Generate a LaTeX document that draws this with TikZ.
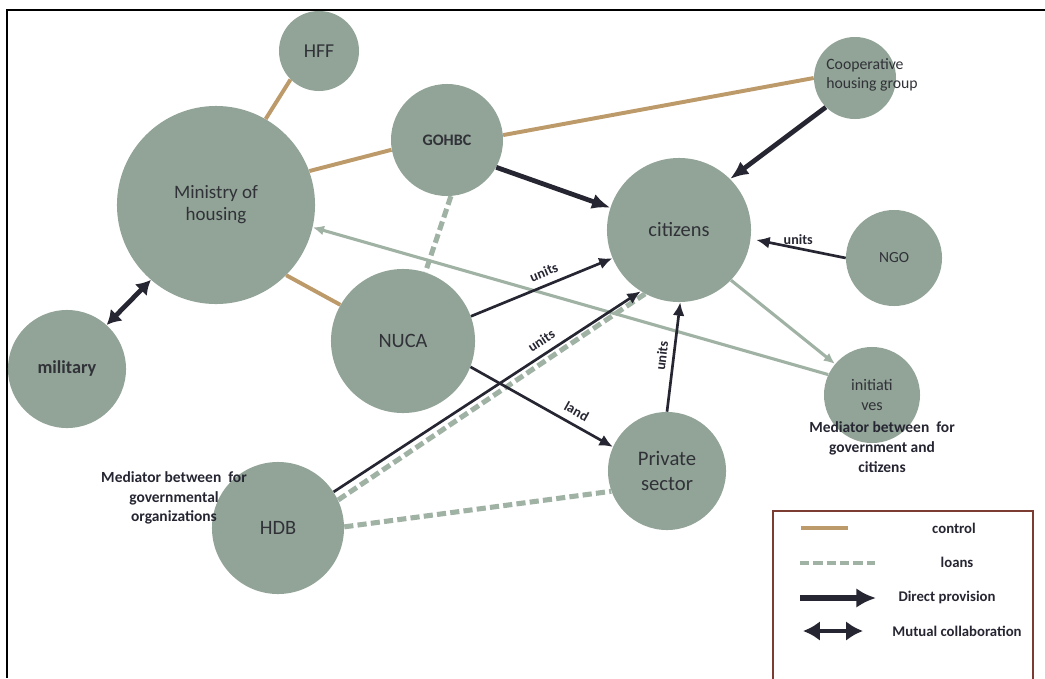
\documentclass[tikz,border=0pt]{standalone}
\usepackage{fontspec}
\setmainfont{Carlito}
\usepackage{tikz}
\usetikzlibrary{arrows.meta, calc}
\definecolor{mysage}{RGB}{146,163,151}
\definecolor{mytan}{RGB}{189,154,106}
\definecolor{myloan}{RGB}{160,178,164}
\definecolor{mydark}{RGB}{38,38,50}
\definecolor{mytext}{RGB}{48,50,56}
\definecolor{myframe}{RGB}{125,60,50}
\tikzset{
  bubble/.style={circle, fill=mysage, inner sep=0pt, minimum size=#1*0.05cm,
    text=mytext, align=center},
  ctrl/.style={line width=2.8pt, color=mytan},
  loan/.style={line width=3.6pt, color=myloan, dash pattern=on 6.5pt off 3pt},
  prov/.style={-{Latex[length=9.5pt,width=8.5pt]}, line width=1.9pt, color=mydark},
  bigprov/.style={-{Latex[length=13pt,width=11pt]}, line width=3.4pt, color=mydark},
  mutual/.style={{Latex[length=10pt,width=12pt]}-{Latex[length=10pt,width=12pt]},
    line width=3.4pt, color=mydark},
  soft/.style={-{Latex[length=8pt,width=7pt]}, line width=2.2pt, color=myloan},
  elabel/.style={font=\fontsize{10}{11}\selectfont\bfseries, text=mydark, inner sep=1pt},
  note/.style={font=\fontsize{11}{14}\selectfont\bfseries, text=mydark, align=center},
  legtxt/.style={font=\fontsize{10.5}{12}\selectfont\bfseries, text=mydark}
}

\begin{document}
\begin{tikzpicture}[x=0.025cm, y=-0.025cm]
  \useasboundingbox (0,0) rectangle (1045,678);
  % frame
  \draw[line width=1.4pt, black] (1045,10) -- (7,10) -- (7,678);

  % Actors
  \node[bubble=99, font=\fontsize{13.5}{15.6}\selectfont] (min) at (216,205) {Ministry of\\housing};
  \node[bubble=40, font=\fontsize{14}{16}\selectfont] (hff) at (319,51) {HFF};
  \node[bubble=56, font=\fontsize{11.4}{13}\selectfont\bfseries] (gohbc) at (447,140) {GOHBC};
  \node[bubble=59, font=\fontsize{13}{15}\selectfont\bfseries] (mil) at (67,369) {military};
  \node[bubble=72, font=\fontsize{14.5}{17}\selectfont] (nuca) at (403,341) {NUCA};
  \node[bubble=66, font=\fontsize{14.5}{17}\selectfont] (hdb) at (278,528) {HDB};
  \node[bubble=72, font=\fontsize{14.5}{17}\selectfont] (cit) at (679,230) {citizens};
  \node[bubble=41] (coop) at (855,78) {};
  \node[bubble=48, font=\fontsize{11}{13}\selectfont] (ngo) at (894,258) {NGO};
  \node[bubble=59, font=\fontsize{14.7}{18}\selectfont] (priv) at (667,471) {Private\\sector};
  \node[bubble=48, font=\fontsize{11.5}{14}\selectfont] (init) at (872,395) {initiati\\ves};

  % Control
  \draw[ctrl] (min.60) -- (hff.-135);
  \draw[ctrl] (min.20) -- (gohbc.190);
  \draw[ctrl] (gohbc.5) -- (coop.180);
  \draw[ctrl] (min.-45) -- (nuca.150);

  % Loans
  \draw[loan] (gohbc.-86) -- (nuca.72);
  \draw[loan] (hdb.25) -- (cit.-118);
  \draw[loan] (hdb.1) -- (priv.200);

  % Feedback
  \draw[soft] (init.155) -- (min.-13);
  \draw[soft] (cit.-44) -- (init.140);

  % Direct provision
  \draw[bigprov] (gohbc.-29) -- (cit.162);
  \draw[bigprov] (coop.-135) -- (cit.45);
  \draw[prov] (nuca.20) -- (cit.-157) node[elabel, pos=0.55, above=4pt, sloped] {units};
  \draw[prov] (hdb.33) -- (cit.-122) node[elabel, pos=0.7, above=4pt, sloped] {units};
  \draw[prov] (nuca.-21) -- (priv.156) node[elabel, pos=0.7, above=4pt, sloped] {land};
  \draw[prov] (priv.90) -- (cit.-89) node[elabel, midway, above=3pt, sloped] {units};
  \draw[prov, shorten >=4pt] (ngo.180) -- (cit.-7) node[elabel, midway, above=1pt] {units};

  % Collaboration
  \draw[mutual] (mil.48) -- (min.-131);

  % Texts
  \node[font=\fontsize{11.2}{13.5}\selectfont, text=mytext, align=left] (cooptxt) at (872,75) {Cooperative\\housing group};
  \node[note] (hdbnote) at (174,498) {Mediator between\ \ for\\governmental\\organizations};
  \node[note] (initnote) at (882,447) {Mediator between\ \ for\\government and\\citizens};

  % Legend
  \draw[line width=1.5pt, myframe] (773,690) -- (773,511) -- (1033,511) -- (1033,690);
  \coordinate (lc1) at (801,528); \coordinate (lc2) at (848,528);
  \coordinate (ll1) at (800,563); \coordinate (ll2) at (875,563);
  \coordinate (lp1) at (800,598); \coordinate (lp2) at (876,598);
  \coordinate (lm1) at (803,631); \coordinate (lm2) at (863,631);
  \draw[ctrl] (lc1) -- (lc2);
  \draw[loan, line width=3pt] (ll1) -- (ll2);
  \draw[-{Latex[length=14pt,width=14pt]}, line width=4pt, mydark] (lp1) -- (lp2);
  \draw[{Latex[length=12pt,width=14pt]}-{Latex[length=12pt,width=14pt]}, line width=3.5pt, mydark] (lm1) -- (lm2);
  \node[legtxt] (lgctrl) at (954,528) {control};
  \node[legtxt] (lgloan) at (957,562) {loans};
  \node[legtxt] (lgprov) at (947,597) {Direct provision};
  \node[legtxt] (lgmut) at (957,631) {Mutual collaboration};
\end{tikzpicture}
\end{document}
